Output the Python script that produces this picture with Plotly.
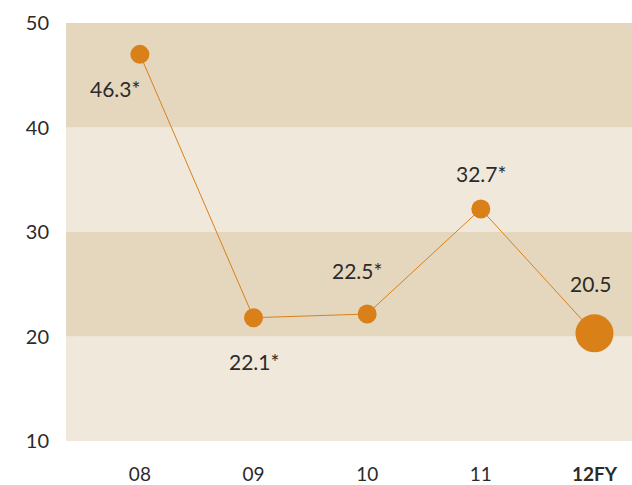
import plotly.graph_objects as go

categories = ["08", "09", "10", "11", "12FY"]
tick_text = ["08", "09", "10", "11", "<b>12FY</b>"]
values = [47.0, 21.8, 22.15, 32.2, 20.3]
labels = ["46.3*", "22.1*", "22.5*", "32.7*", "20.5"]
marker_sizes = [19, 19, 19, 19, 38]
band_edges = [10, 20, 30, 40, 50]
band_colors = ["#F1E8DC", "#E5D7BD", "#F1E8DC", "#E5D7BD"]
label_offsets = [(-25, -34), (0, -44), (-10, 44), (0, 36), (-3, 50)]

orange = "#D98019"
xs = list(range(len(categories)))

fig = go.Figure()
for i in range(len(band_colors)):
    fig.add_shape(type="rect", xref="paper", yref="y", x0=0, x1=1,
                  y0=band_edges[i], y1=band_edges[i + 1],
                  fillcolor=band_colors[i], line_width=0, layer="below")

fig.add_trace(go.Scatter(x=xs, y=values, mode="lines+markers",
                         line=dict(color=orange, width=1),
                         marker=dict(color=orange, size=marker_sizes, opacity=1,
                                     line=dict(width=0, color=orange)),
                         opacity=1,
                         hoverinfo="skip"))

for i, lab in enumerate(labels):
    dx, dy = label_offsets[i]
    fig.add_annotation(x=xs[i], y=values[i], text=lab, showarrow=False,
                       xshift=dx, yshift=dy,
                       font=dict(family="Lato", size=21, color="#2b2b2b"))

fig.update_layout(
    width=632, height=485,
    margin=dict(l=66, r=0, t=23, b=44),
    paper_bgcolor="white", plot_bgcolor="white",
    showlegend=False,
    font=dict(family="Lato", color="#2b2b2b"),
)
fig.update_xaxes(range=[-0.65, 4.33], tickvals=xs, ticktext=tick_text,
                 showgrid=False, zeroline=False, showline=False, ticks="",
                 tickfont=dict(size=19, color="#2b2b2b"), ticklabelstandoff=20)
fig.update_yaxes(range=[10, 50], tickvals=band_edges, showgrid=False,
                 zeroline=False, showline=False, ticks="",
                 tickfont=dict(size=20, color="#2b2b2b"), ticklabelstandoff=16)

fig.write_html("out.html")
